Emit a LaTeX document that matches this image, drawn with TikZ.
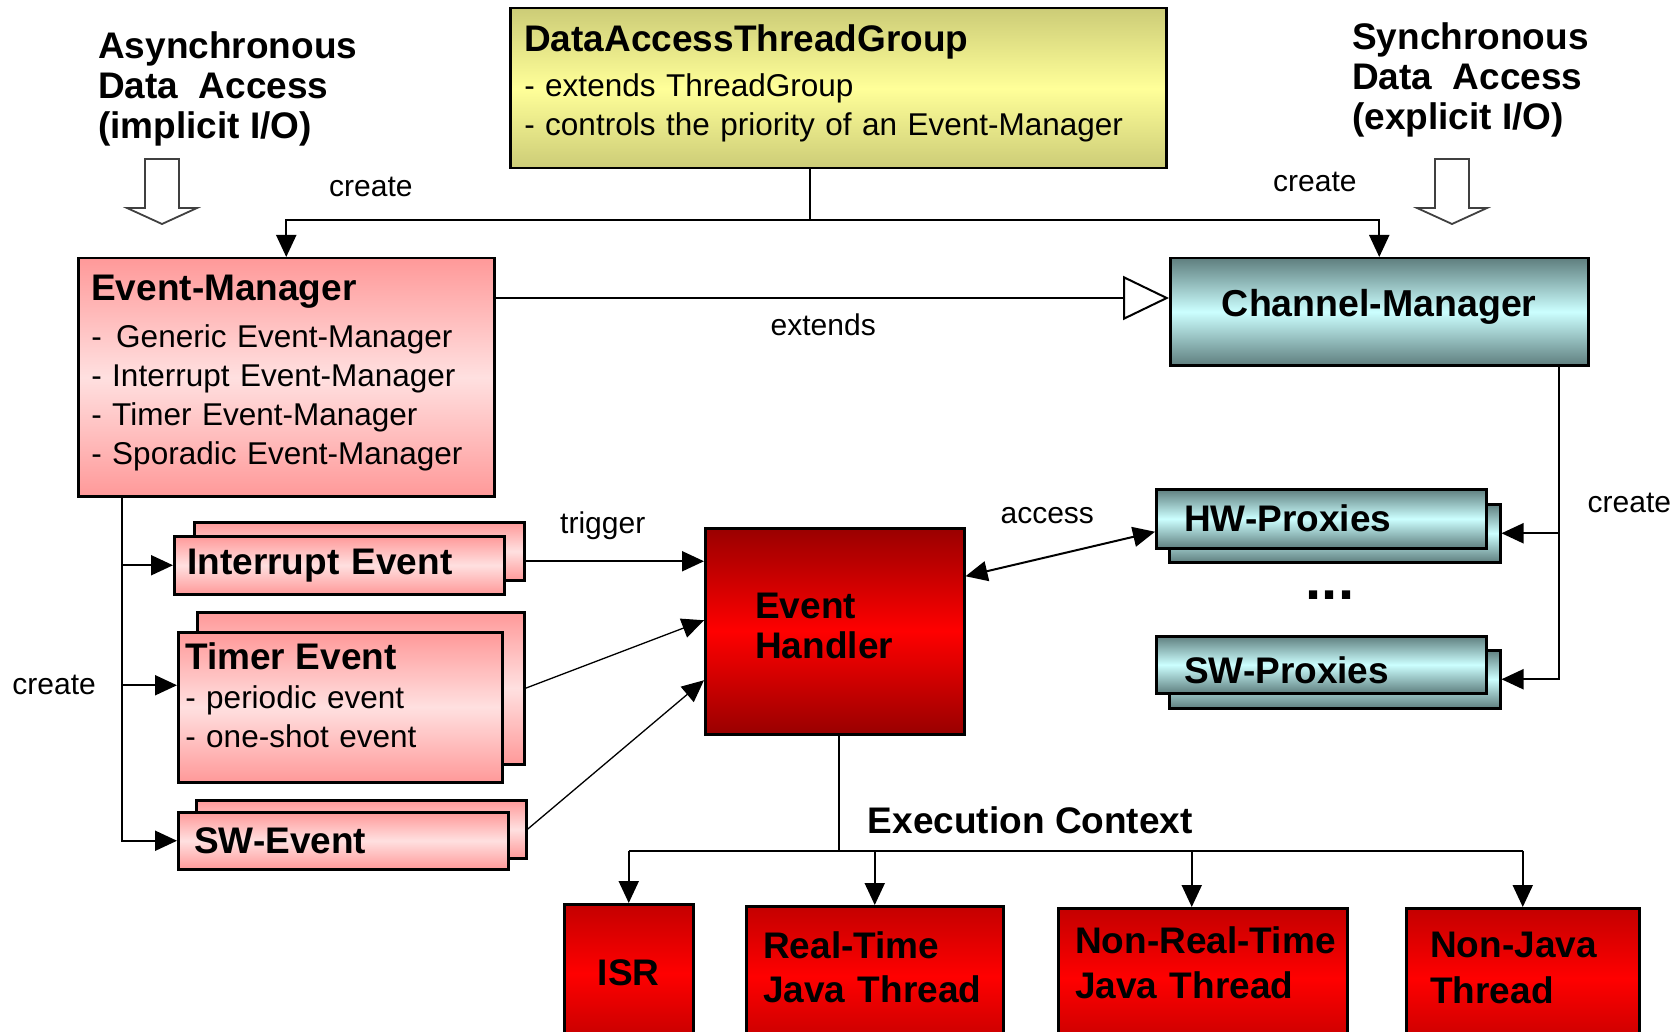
\documentclass[tikz,border=0pt]{standalone}
\usepackage{fontspec}
\setmainfont{Liberation Sans}
\usepackage{xcolor}
\usepackage{tikz}
\usetikzlibrary{positioning,arrows.meta,calc}

\definecolor{rose}{HTML}{FF9999}
\definecolor{blush}{HTML}{FFE0E0}
\definecolor{olive}{HTML}{CCCC77}
\definecolor{lemon}{HTML}{FFFF99}
\definecolor{slate}{HTML}{5F7F7F}
\definecolor{ice}{HTML}{CCFFFF}
\definecolor{maroon}{HTML}{990000}
\definecolor{crimson}{HTML}{C40000}

\newcommand{\headfont}{\fontsize{37}{40}\selectfont\bfseries}
\newcommand{\itemfont}{\fontsize{31.5}{39}\selectfont}
\newcommand{\notefont}{\fontsize{30}{34}\selectfont}

\begin{document}
\begin{tikzpicture}[
    x=1pt, y=-1pt,
    box/.style={draw=black, line width=2.5pt, inner sep=0pt, anchor=north west},
    pinkbox/.style={box, top color=rose, bottom color=rose, middle color=blush},
    yellowbox/.style={box, top color=olive, bottom color=olive, middle color=lemon},
    tealbox/.style={box, top color=slate, bottom color=slate, middle color=ice},
    redbox/.style={box, top color=maroon, bottom color=maroon, middle color=red},
    ctxbox/.style={box, top color=crimson, bottom color=crimson, middle color=red, font=\headfont, align=left},
    evt/.style={pinkbox, minimum width=330pt, minimum height=58pt},
    proxy/.style={tealbox, minimum width=330pt, minimum height=58pt},
    conn/.style={line width=2pt},
    arrow/.style={line width=2pt, -{Triangle[length=22pt, width=20pt]}},
    thinarrow/.style={line width=1.3pt, -{Triangle[length=22pt, width=20pt]}},
    dblarrow/.style={line width=2pt, {Triangle[length=22pt, width=20pt]}-{Triangle[length=22pt, width=20pt]}},
    note/.style={font=\notefont, inner sep=0pt},
    hollow/.style={draw=black!75, line width=1.8pt, fill=white}
]

\path[use as bounding box, fill=white] (0,0) rectangle (1678,1032);

% Headings
\node[anchor=north west, align=left, font=\headfont, inner sep=0pt] (async) at (98,31)
    {Asynchronous\\Data\ \ Access\\(implicit I/O)};
\node[anchor=north west, align=left, font=\headfont, inner sep=0pt] (sync) at (1352,22)
    {Synchronous\\Data\ \ Access\\(explicit I/O)};
\draw[hollow] (145,159) -- (179,159) -- (179,208) -- (197,208) -- (162,224) -- (127,208) -- (145,208) -- cycle;
\draw[hollow, shift={(1290,0)}] (145,159) -- (179,159) -- (179,208) -- (197,208) -- (162,224) -- (127,208) -- (145,208) -- cycle;

% Thread group
\node[yellowbox, minimum width=656pt, minimum height=160pt, text width=628pt, inner xsep=14pt,
      align=left, font=\itemfont, text depth=100pt] (datg) at (509,7)
    {{\headfont DataAccessThreadGroup}\\[6pt]
     - extends ThreadGroup\\
     - controls the priority of an Event-Manager};

% Managers
\node[pinkbox, minimum width=416pt, minimum height=238pt, text width=390pt, inner xsep=13pt,
      align=left, font=\itemfont, text depth=178pt] (em) at (77,257)
    {{\headfont Event-Manager}\\[8pt]
     - \kern4pt Generic Event-Manager\\
     - Interrupt Event-Manager\\
     - Timer Event-Manager\\
     - Sporadic Event-Manager};
\node[tealbox, minimum width=418pt, minimum height=107pt, text depth=18pt,
      font=\fontsize{37.5}{44}\selectfont\bfseries] (cm) at (1169,257) {Channel-Manager};

\coordinate (tjoin) at ($(datg.south)+(-28,51)$);
\draw[conn] (tjoin |- datg.south) -- (tjoin);
\draw[arrow] (tjoin) -| (em.north);
\draw[arrow] (tjoin) -| (cm.north);
\node[note, anchor=south west] (createl) at (329,197) {create};
\node[note, anchor=south west] (creater) at (1273,192) {create};

\coordinate (emext) at ($(em.north east)+(0,41)$);
\draw[conn, -{Triangle[open, fill=white, length=46pt, width=44pt]}] (emext) -- (emext -| cm.west)
    node[note, midway, below=15pt, xshift=-9pt] {extends};

% Events (back copy first)
\node[evt] (irqb) at (193,521) {};
\node[evt, text width=304pt, inner xsep=13pt, align=left, font=\headfont] (irq) at (173,535) {Interrupt Event};

\node[pinkbox, minimum width=327pt, minimum height=152pt] (tmrb) at (196,611) {};
\node[pinkbox, minimum width=324pt, minimum height=150pt, text width=310pt, inner xsep=7pt,
      align=left, font=\itemfont, text depth=102pt] (tmr) at (177,631)
    {{\headfont Timer Event}\\
     - periodic event\\
     - one-shot event};

\node[evt] (sweb) at (195,799) {};
\node[evt, minimum height=57pt, text width=298pt, inner xsep=16pt, align=left, font=\headfont] (swe) at (177,811) {SW-Event};

\coordinate (emout) at ($(em.south west)+(45,0)$);
\coordinate (tmrin) at ($(tmr.west)+(0,-22)$);
\draw[arrow] (emout) |- (irq.west);
\draw[arrow] (emout) |- (tmrin);
\draw[arrow] (emout) |- (swe.west);
\node[note, left=26pt of emout |- tmrin] (createev) {create};

% Handler
\node[redbox, minimum width=259pt, minimum height=206pt, text width=159pt, inner xsep=50pt,
      align=left, font=\headfont, text depth=50pt] (eh) at (704,527) {Event\\Handler};

\coordinate (trg) at ($(irqb.east)+(0,10)$);
\draw[arrow] (trg) -- (trg -| eh.west) node[note, midway, above=21pt, xshift=-12pt] {trigger};
\draw[thinarrow] (tmrb.east) -- ($(eh.west)+(0,-11)$);
\draw[thinarrow] (sweb.east) -- ($(eh.west)+(0,49)$);

% Proxies
\node[proxy, minimum width=331pt] (hwb) at (1168,503) {};
\node[proxy, minimum height=59pt, text width=274pt, inner xsep=28pt, align=left, font=\headfont] (hw) at (1155,488) {HW-Proxies};
\node[proxy, minimum width=331pt] (swpb) at (1168,649) {};
\node[proxy, minimum height=57pt, text width=274pt, inner xsep=28pt, align=left, font=\headfont,
      text height=37pt] (swp) at (1155,635) {SW-Proxies};
\node[font=\fontsize{58}{64}\selectfont\bfseries, inner sep=0pt, anchor=base] (dots) at (1330,599) {...};

\draw[dblarrow] ($(eh.east)+(0,-55)$) -- ($(hw.west)+(0,13)$)
    node[note, midway, above=29pt, xshift=-13pt] {access};

\coordinate (cmout) at ($(cm.south east)+(-31,0)$);
\draw[arrow] (cmout) |- (hwb.east);
\draw[arrow] (cmout) |- (swpb.east);
\node[note, above right=20pt and 29pt of cmout |- hwb.east] (createpx) {create};

% Execution contexts
\node[ctxbox, align=center, minimum width=129pt, minimum height=138pt] (isr) at (563,903) {ISR};
\node[ctxbox, minimum width=257pt, minimum height=140pt, text width=223pt, inner xsep=17pt,
      text depth=62pt] (rt) at (745,905) {Real-Time\\[4pt]Java Thread};
\node[ctxbox, minimum width=289pt, minimum height=140pt, text width=255pt, inner xsep=17pt,
      text depth=76pt] (nrt) at (1057,907) {\mbox{Non-Real-Time}\\[5pt]Java Thread};
\node[ctxbox, minimum width=233pt, minimum height=140pt, text width=185pt, inner xsep=24pt,
      text depth=66pt] (nj) at (1405,907) {Non-Java\\[6pt]Thread};

\coordinate (ctx) at ($(eh.south)+(4,115)$);
\draw[conn] (ctx |- eh.south) -- (ctx);
\draw[conn] (isr.north |- ctx) -- (nj.north |- ctx);
\draw[arrow] (isr.north |- ctx) -- (isr.north);
\draw[arrow] (rt.north |- ctx) -- (rt.north);
\draw[arrow] ($(nrt.north |- ctx)+(-11,0)$) -- ($(nrt.north)+(-11,0)$);
\draw[arrow] (nj.north |- ctx) -- (nj.north);
\node[font=\fontsize{37}{42}\selectfont\bfseries, inner sep=0pt, above right=16pt and 29pt of ctx] (ctxlbl) {Execution Context};

\end{tikzpicture}
\end{document}
